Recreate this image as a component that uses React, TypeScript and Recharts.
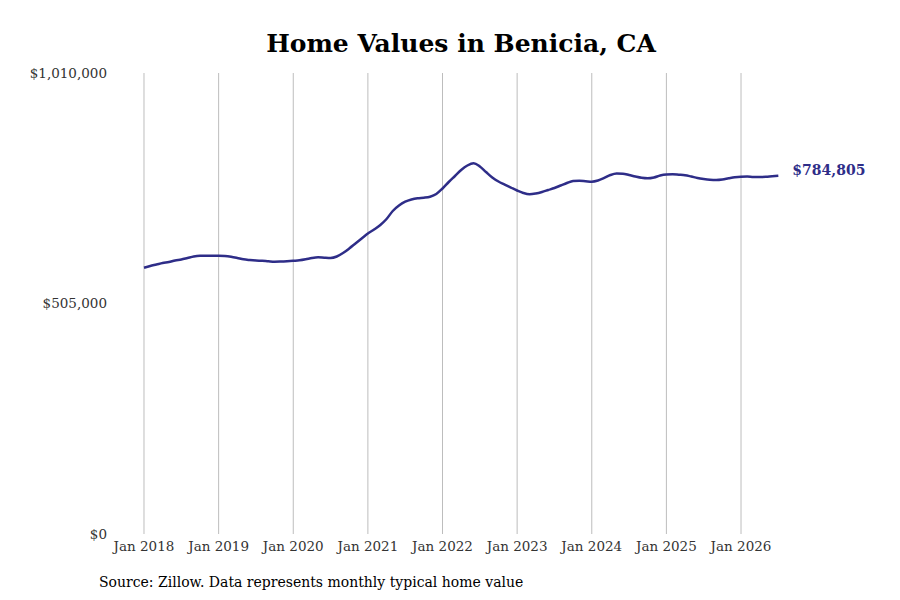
import { Line, LineChart, ReferenceLine, XAxis, YAxis } from "recharts";

// Monthly typical home value, Jan 2018 .. Jul 2026 (index 0 = Jan 2018)
const startYear = 2018;
const homeValues = [
  583400, 587200, 590400, 593700, 595900, 599200, 601400, 604700, 608000, 609500, 609700, 609700,
  609700, 609100, 607300, 604700, 601800, 600300, 599200, 598600, 597500, 596600, 597000, 597700,
  598600, 599600, 601800, 604700, 606200, 605300, 604700, 608000, 615600, 625500, 636500, 647400,
  658400, 667100, 677000, 690100, 707700, 719700, 728000, 732900, 735700, 736800, 739000, 744900,
  757000, 771200, 784300, 797500, 807300, 812200, 805200, 793100, 781100, 772300, 765700, 759100,
  752600, 747100, 744300, 746000, 749300, 753700, 758100, 763500, 769000, 773400, 774000, 773000,
  771900, 774500, 780000, 786500, 789800, 789400, 786500, 783200, 780400, 779300, 781100, 785400,
  787600, 788100, 787200, 786100, 783200, 780000, 777800, 776200, 775600, 776700, 779300, 781700,
  782800, 783000, 782100, 782100, 782600, 783800, 784805,
];
const xTicks = [0, 12, 24, 36, 48, 60, 72, 84, 96];
const yTicks = [0, 505000, 1010000];

const data = homeValues.map((value, i) => ({ month: i, value }));

const LINE = "rgb(46, 45, 136)";
const FONT = "'DejaVu Serif', serif";

const money = (v: number) => `$${v.toLocaleString("en-US")}`;
const monthLabel = (m: number) => `Jan ${startYear + Math.floor(m / 12)}`;

function EndLabel(props: any) {
  const { x, y, index } = props;
  if (index !== data.length - 1) return null;
  return (
    <text
      x={x + 14}
      y={y - 6}
      dominantBaseline="central"
      fill={LINE}
      fontSize={14}
      fontWeight="bold"
      fontFamily={FONT}
    >
      {money(homeValues[index])}
    </text>
  );
}

export default function App() {
  return (
    <div style={{ position: "relative", width: 900, height: 600, background: "#fff", fontFamily: FONT }}>
      <style>{`body{margin:0}`}</style>
      <div
        style={{
          position: "absolute",
          left: 0,
          width: 922,
          top: 29,
          textAlign: "center",
          fontSize: 25,
          fontWeight: "bold",
          color: "#000",
        }}
      >
        Home Values in Benicia, CA
      </div>
      <LineChart
        width={900}
        height={600}
        data={data}
        margin={{ top: 73, right: 92, bottom: 36, left: 0 }}
      >
        {xTicks.map((t) => (
          <ReferenceLine key={t} x={t} stroke="#bdbdbd" strokeWidth={1} />
        ))}
        <XAxis
          dataKey="month"
          type="number"
          domain={[-4.663, 106.77]}
          ticks={xTicks}
          tickFormatter={monthLabel}
          axisLine={false}
          tickLine={false}
          tickMargin={1}
          height={30}
          tick={{ fill: "#333", fontSize: 13.5, fontFamily: FONT }}
        />
        <YAxis
          type="number"
          domain={[0, 1010000]}
          ticks={yTicks}
          tickFormatter={money}
          axisLine={false}
          tickLine={false}
          width={115}
          tick={{ fill: "#333", fontSize: 13.5, fontFamily: FONT }}
        />
        <Line
          type="monotone"
          dataKey="value"
          stroke={LINE}
          strokeWidth={2.5}
          dot={false}
          label={<EndLabel />}
          isAnimationActive={false}
        />
      </LineChart>
      <div
        style={{
          position: "absolute",
          left: 99,
          top: 574,
          fontSize: 14,
          fontFamily: FONT,
          color: "#000",
        }}
      >
        Source: Zillow. Data represents monthly typical home value
      </div>
    </div>
  );
}
